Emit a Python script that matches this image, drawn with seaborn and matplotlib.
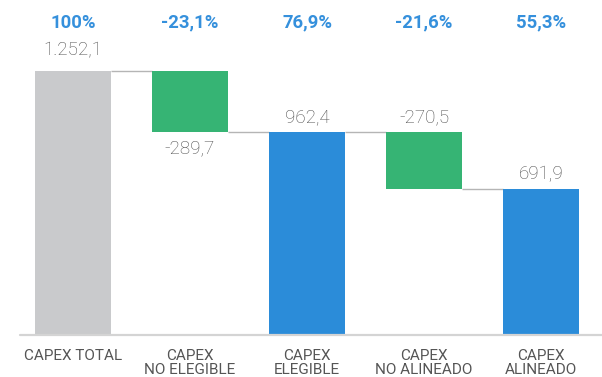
import matplotlib
matplotlib.use("Agg")
import matplotlib.pyplot as plt
import matplotlib.transforms as mtransforms
import seaborn as sns
import pandas as pd

# Waterfall data: CAPEX breakdown
categories = ["CAPEX TOTAL", "CAPEX\nNO ELEGIBLE", "CAPEX\nELEGIBLE", "CAPEX\nNO ALINEADO", "CAPEX\nALINEADO"]
changes = [1252.1, -289.7, 962.4, -270.5, 691.9]
kinds = ["total", "delta", "total", "delta", "total"]
value_labels = ["1.252,1", "-289,7", "962,4", "-270,5", "691,9"]
pct_labels = ["100%", "-23,1%", "76,9%", "-21,6%", "55,3%"]

colors = {"first": "#c9cacc", "delta": "#36b474", "total": "#2b8cd9"}

# Floating bar bottoms/heights and running level after each step
bottoms, heights, run = [], [], []
level = 0.0
for v, k in zip(changes, kinds):
    if k == "total":
        bottoms.append(0.0)
        heights.append(v)
        level = v
    else:
        level = level + v
        bottoms.append(level)
        heights.append(-v)
    run.append(level)

df = pd.DataFrame({"cat": categories, "height": heights, "bottom": bottoms})

sns.set_theme(style="white")
plt.rcParams["font.family"] = ["Roboto", "DejaVu Sans"]

W, H = 602, 377
fig = plt.figure(figsize=(W / 100, H / 100), dpi=100)
base_px = 335
ax = fig.add_axes([20 / W, (H - base_px) / H, (W - 20) / W, base_px / H])

sns.barplot(data=df, x="cat", y="height", bottom=df["bottom"].values, width=0.65,
            ax=ax, linewidth=0, saturation=1, color=colors["total"])

bar_colors = [colors["first"]] + [colors["delta"] if k == "delta" else colors["total"] for k in kinds[1:]]
for p, c in zip(ax.patches, bar_colors):
    p.set_facecolor(c)
    p.set_edgecolor("none")

scale = 264 / 1252.1  # pixels per unit
ax.set_ylim(0, base_px / scale)
ax.set_xlim(-0.453, 4.521)
ax.set_axis_off()

# Connector lines between consecutive bars
hw = 0.325
for i in range(len(categories) - 1):
    ax.plot([i + hw, i + 1 - hw], [run[i], run[i]], color="#b5b5b5", lw=1.0,
            solid_capstyle="butt", zorder=0)

# Baseline
ax.plot([-0.453, 4.521], [0, 0], color="#d4d4d4", lw=1.6, clip_on=False, zorder=3)

# Value labels (offsets in points, relative to the text baseline)
label_offsets = [11.5, -15.0, 7.2, 7.2, 7.2]
for i, lab in enumerate(value_labels):
    anchor = bottoms[i] if label_offsets[i] < 0 else bottoms[i] + heights[i]
    ax.annotate(lab, (i, anchor), xytext=(0, label_offsets[i]), textcoords="offset points",
                ha="center", va="baseline", fontsize=13.5, color="#4e4e4e",
                fontweight="light")

# Percentage labels along the top
trans = mtransforms.blended_transform_factory(ax.transData, fig.transFigure)
for i, lab in enumerate(pct_labels):
    ax.text(i, 1 - 22.5 / H, lab, transform=trans, ha="center", va="center",
            fontsize=13.3, fontweight="bold", color="#3590dc")

# Category labels under the axis, one text per line
for i, lab in enumerate(categories):
    for j, line in enumerate(lab.split("\n")):
        ax.text(i, 1 - (359.5 + 14.3 * j) / H, line, transform=trans, ha="center",
                va="baseline", fontsize=11.0, color="#555555")

fig.savefig("out.png", dpi=100)
